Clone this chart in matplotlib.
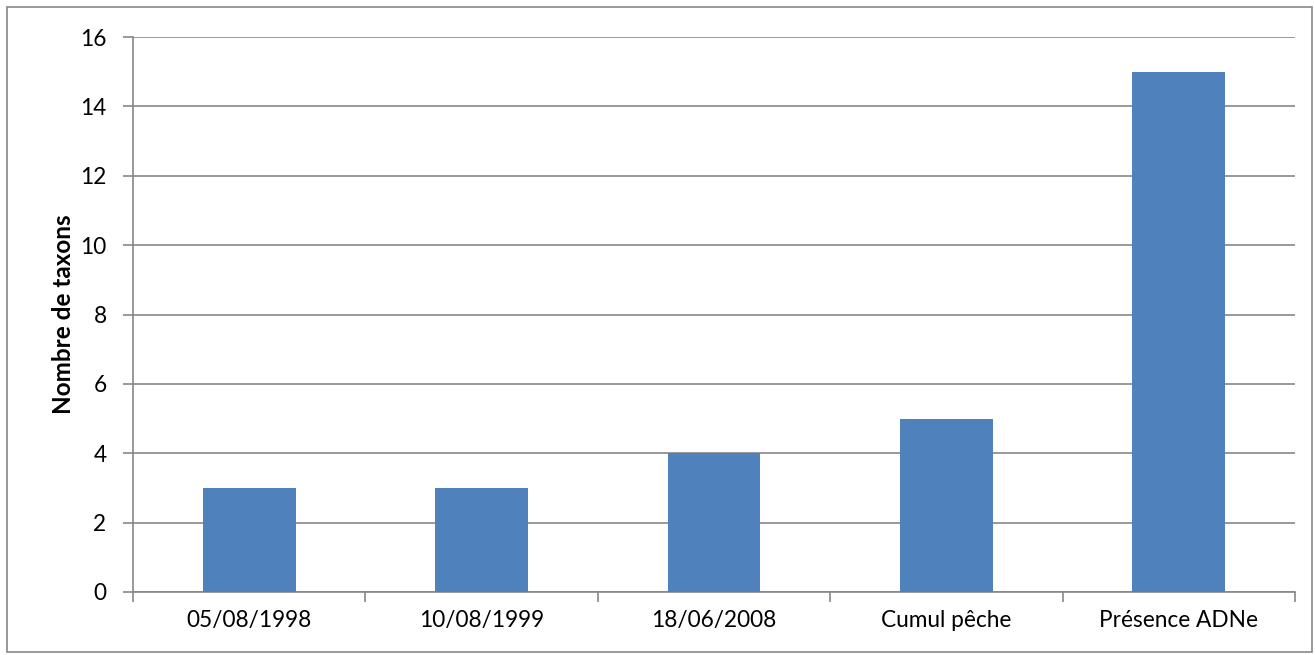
import matplotlib
matplotlib.use('Agg')
import matplotlib.pyplot as plt
import numpy as np

categories = ['05/08/1998', '10/08/1999', '18/06/2008', 'Cumul pêche', 'Présence ADNe']
values = [3, 3, 4, 5, 15]
yticks = [0, 2, 4, 6, 8, 10, 12, 14, 16]

plt.rcParams['font.family'] = ['Lato', 'DejaVu Sans']

fig = plt.figure(figsize=(13.15, 6.55), dpi=100)
ax = fig.add_axes([133/1315, 1-592/655, (1295-133)/1315, (592-37)/655])

x = np.arange(len(categories))
ax.bar(x, values, width=0.4, color='#4F81BD', zorder=3)

ax.set_xlim(-0.5, len(categories)-0.5)
ax.set_ylim(0, 16)
ax.set_yticks(yticks)
ax.yaxis.grid(True, color='#878787', linewidth=1.2, zorder=0)

# category labels centred, tick marks on the boundaries
ax.set_xticks(np.arange(-0.5, len(categories)), minor=False)
ax.set_xticklabels([])
ax.set_xticks(x, minor=True)
ax.set_xticklabels(categories, minor=True, fontsize=16.3)
ax.tick_params(axis='x', which='minor', length=0, pad=13)
ax.tick_params(axis='x', which='major', length=7, color='#878787', width=1.2)
ax.tick_params(axis='y', length=7, color='#878787', width=1.2, labelsize=16.3, pad=12)

for s in ['top', 'right']:
    ax.spines[s].set_visible(False)
for s in ['left', 'bottom']:
    ax.spines[s].set_color('#878787')
    ax.spines[s].set_linewidth(1.2)

ax.set_ylabel('Nombre de taxons', fontsize=17.5, fontweight='bold', labelpad=4)

# outer chart border
fig.patches.append(plt.Rectangle((7/1315, 3/655), 1305/1315, 645/655, transform=fig.transFigure,
                                 fill=False, edgecolor='#878787', linewidth=1.2))

fig.savefig('out.png', dpi=100)
